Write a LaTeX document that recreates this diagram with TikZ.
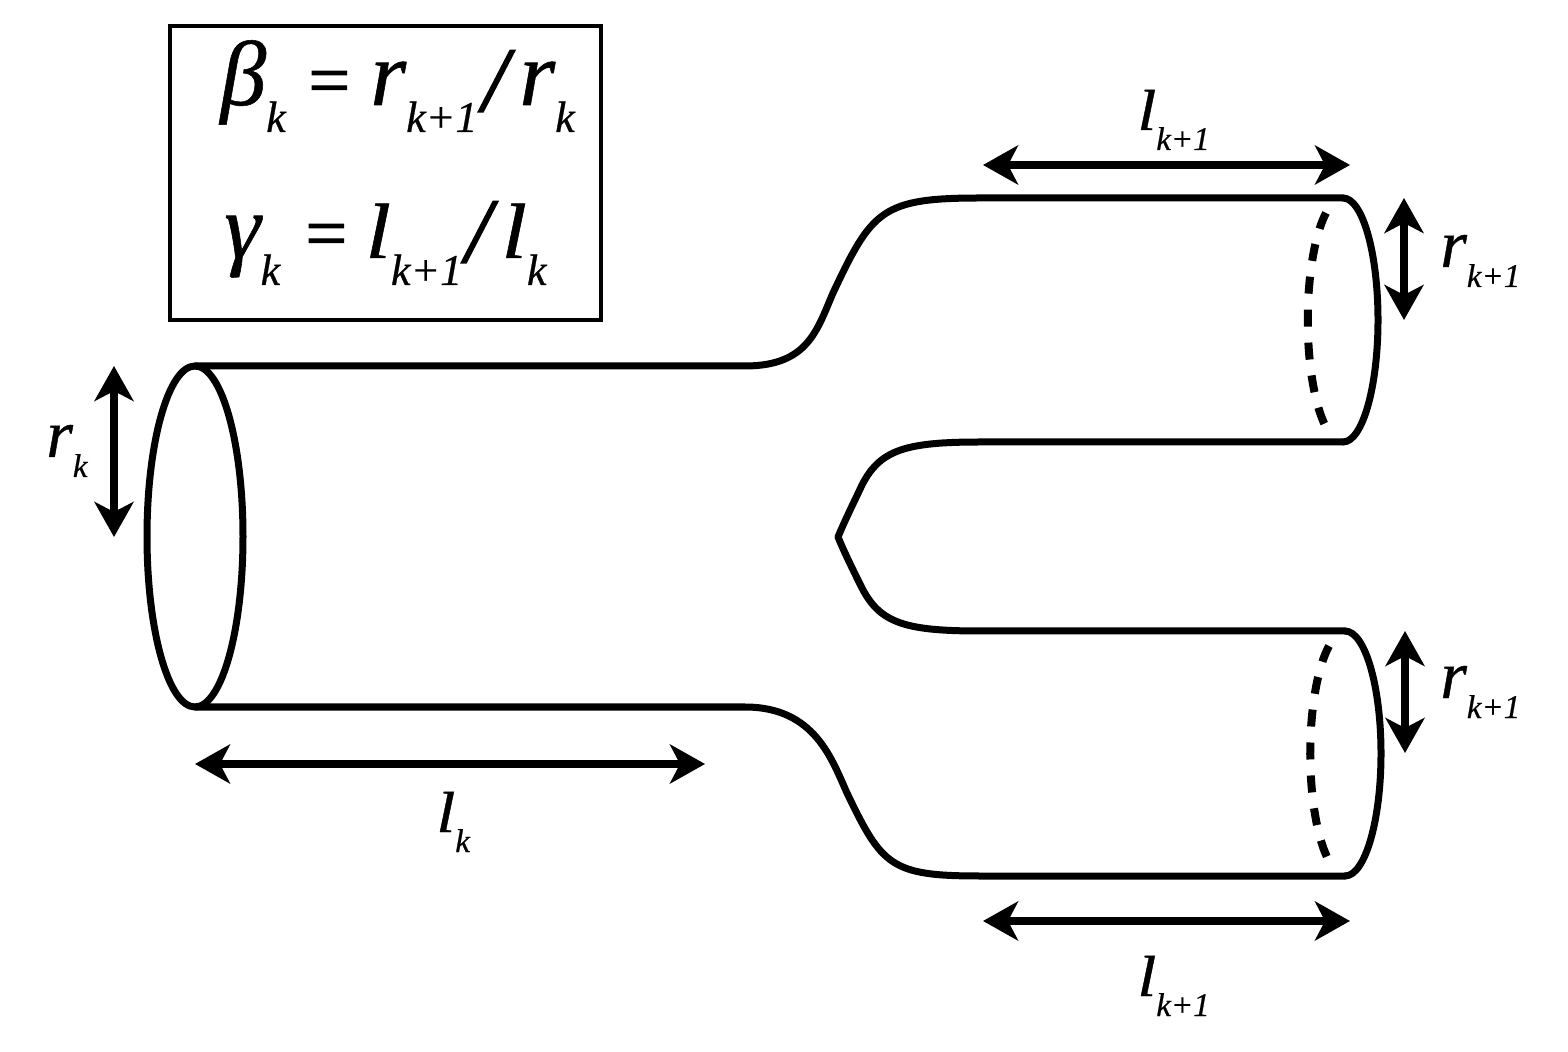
\documentclass[tikz,border=0pt]{standalone}
\usepackage{fontspec}
\setmainfont{Liberation Serif}
\usepackage{tikz}
\usetikzlibrary{arrows.meta, shapes.geometric, positioning}

\newcommand{\shortl}{\scalebox{1}[0.85]{l}}
\newcommand{\sublab}[2]{{\fontsize{34}{34}\selectfont\itshape\addfontfeature{FakeBold=0.6}#1\raisebox{-10pt}{\fontsize{16.5}{16.5}\selectfont #2}}}
\newcommand{\bigsub}[2]{{\fontsize{46}{46}\selectfont\itshape\addfontfeature{FakeBold=0.6}#1\raisebox{-13.5pt}{\fontsize{22}{22}\selectfont #2}}}

\tikzset{
    tube/.style={line width=3.5pt, line cap=round, line join=round},
    hidden/.style={line width=4pt, dash pattern=on 8.5pt off 8pt},
    dim/.style={line width=4pt, {Stealth[length=17.5pt, width=19.5pt, inset=5pt]}-{Stealth[length=17.5pt, width=19.5pt, inset=5pt]}},
    lab/.style={inner sep=0pt, anchor=base west},
    slash/.style={lab, font=\fontsize{46}{46}\selectfont\itshape\addfontfeature{FakeBold=1.5}},
    equals/.style={lab, font=\fontsize{37}{37}\selectfont\addfontfeature{FakeBold=1.5}}
}

\begin{document}
\begin{tikzpicture}[x=0.5pt, y=-0.5pt]
            \useasboundingbox (0, 0) rectangle (1568, 1052);

            \node[draw, line width=2pt, minimum width=215.5pt, minimum height=147pt, inner sep=0pt] (legend) at (385.5, 173) {};
            \node[lab] (beta) at (220, 105) {\bigsub{β}{k}};
            \node[equals] (betaeq) at (308, 105) {=};
            \node[lab] (betaleft) at (370, 105) {\bigsub{r}{k+1}};
            \node[slash] (betaslash) at (482, 111) {/};
            \node[lab] (betaright) at (519, 105) {\bigsub{r}{k}};
            \node[lab] (gamma) at (224, 258) {\bigsub{γ}{k}};
            \node[equals] (gammaeq) at (305, 258) {=};
            \node[lab] (gammaleft) at (365, 258) {\bigsub{\shortl}{k+1}};
            \node[slash] (gammaslash) at (465, 262) {/};
            \node[lab] (gammaright) at (501, 258) {\bigsub{\shortl}{k}};

            \node[ellipse, draw, tube, minimum width=48pt, minimum height=170.5pt, inner sep=0pt] (mouth) at (195, 536.5) {};

            \coordinate (topa) at (195, 366);
            \coordinate (topb) at (745, 366);
            \coordinate (topc) at (980, 198);
            \coordinate (topd) at (1343, 198);
            \coordinate (inna) at (1343, 442);
            \coordinate (innb) at (980, 442);
            \coordinate (cusp) at (838, 537);
            \coordinate (innc) at (980, 631);
            \coordinate (innd) at (1345, 631);
            \coordinate (bota) at (1345, 876);
            \coordinate (botb) at (980, 876);
            \coordinate (botc) at (745, 707);
            \coordinate (botd) at (195, 707);

            \draw[tube] (topa) -- (topb) .. controls (808, 366) and (817, 330) .. (833, 293) .. controls (872, 210) and (882, 198) .. (topc) -- (topd);
            \draw[tube] (topd) arc[start angle=-90, end angle=90, x radius=35, y radius=122];
            \draw[tube] (inna) -- (innb) .. controls (905, 442) and (880, 450) .. (862, 485) .. controls (855, 500) and (845, 520) .. (cusp);
            \draw[tube] (cusp) .. controls (845, 554) and (855, 574) .. (862, 588) .. controls (880, 623) and (905, 631) .. (innc) -- (innd);
            \draw[tube] (innd) arc[start angle=-90, end angle=90, x radius=36, y radius=122.5];
            \draw[tube] (bota) -- (botb) .. controls (891, 876) and (882, 866) .. (847, 793) .. controls (832, 760) and (815, 707) .. (botc) -- (botd);

            \draw[hidden] (1326, 213) arc[start angle=-118.6, end angle=-241.4, x radius=35, y radius=122];
            \draw[hidden] (1329, 646) arc[start angle=-118.6, end angle=-241.4, x radius=36, y radius=122.5];

            \coordinate (rka) at (114, 366);
            \coordinate (rkb) at (114, 537);
            \coordinate (lka) at (195, 764);
            \coordinate (lkb) at (705, 764);
            \coordinate (lua) at (983, 165);
            \coordinate (lub) at (1350, 165);
            \coordinate (lda) at (983, 921);
            \coordinate (ldb) at (1350, 921);
            \coordinate (rua) at (1404, 198);
            \coordinate (rub) at (1404, 320);
            \coordinate (rda) at (1405, 631);
            \coordinate (rdb) at (1405, 753);

            \draw[dim] (rka) -- (rkb);
            \draw[dim] (lka) -- (lkb);
            \draw[dim] (lua) -- (lub);
            \draw[dim] (lda) -- (ldb);
            \draw[dim] (rua) -- (rub);
            \draw[dim] (rda) -- (rdb);

            \node[lab] (rk) at (46, 457) {\sublab{r}{k}};
            \node[lab] (lk) at (436, 832) {\sublab{\shortl}{k}};
            \node[lab] (lu) at (1137, 130) {\sublab{\shortl}{k+1}};
            \node[lab] (ld) at (1137, 996) {\sublab{\shortl}{k+1}};
            \node[lab] (ru) at (1440, 267) {\sublab{r}{k+1}};
            \node[lab] (rd) at (1440, 698) {\sublab{r}{k+1}};
        \end{tikzpicture}
\end{document}
